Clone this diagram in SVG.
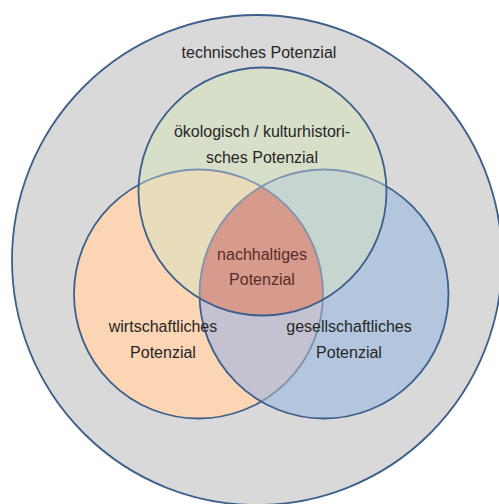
<svg xmlns="http://www.w3.org/2000/svg" width="499" height="504" viewBox="0 0 499 504">
<style>
.t{font-family:"Liberation Sans",Arial,sans-serif;font-size:16px;fill:#262626;text-anchor:middle}
.c{fill:#5a2b2b}
.dk{fill:none;stroke:#3d5f8c;stroke-width:1.8}
.lt{fill:none;stroke:#7d93b1;stroke-width:1.8}
</style>
<defs>
<clipPath id="cO"><circle cx="198.5" cy="294" r="124.5"/></clipPath>
<clipPath id="cG"><circle cx="262.5" cy="191.5" r="124"/></clipPath>
<clipPath id="cBG"><circle cx="324" cy="294" r="124.5"/><circle cx="262.5" cy="191.5" r="124"/></clipPath>
<mask id="mO"><rect width="499" height="504" fill="#fff"/><circle cx="324" cy="294" r="124.5" fill="#000"/><circle cx="262.5" cy="191.5" r="124" fill="#000"/></mask>
<mask id="mB"><rect width="499" height="504" fill="#fff"/><circle cx="262.5" cy="191.5" r="124" fill="#000"/></mask>
</defs>
<g id="technisch">
<circle cx="257" cy="260" r="245" fill="#d9d9d9" stroke="#3d5f8c" stroke-width="1.8"/>
<text class="t" x="259" y="58">technisches Potenzial</text>
</g>
<g id="fills">
<circle cx="198.5" cy="294" r="124.5" fill="#fbd5b4"/>
<circle cx="324" cy="294" r="124.5" fill="#b3c6de"/>
<circle cx="262.5" cy="191.5" r="124" fill="#d8dfc9"/>
<g clip-path="url(#cO)"><circle cx="324" cy="294" r="124.5" fill="#c4c2d0"/></g>
<g clip-path="url(#cG)"><circle cx="198.5" cy="294" r="124.5" fill="#e8dcba"/><circle cx="324" cy="294" r="124.5" fill="#c6d5d0"/></g>
<g clip-path="url(#cG)"><g clip-path="url(#cO)"><circle cx="324" cy="294" r="124.5" fill="#d69b8c"/></g></g>
</g>
<g id="strokes">
<circle cx="198.5" cy="294" r="124.5" class="lt" clip-path="url(#cBG)"/>
<circle cx="198.5" cy="294" r="124.5" class="dk" mask="url(#mO)"/>
<circle cx="324" cy="294" r="124.5" class="lt" clip-path="url(#cG)"/>
<circle cx="324" cy="294" r="124.5" class="dk" mask="url(#mB)"/>
<circle cx="262.5" cy="191.5" r="124" class="dk"/>
</g>
<g id="oekologisch">
<text class="t" x="262" y="137">ökologisch / kulturhistori-</text>
<text class="t" x="262" y="163">sches Potenzial</text>
</g>
<g id="wirtschaftlich">
<text class="t" x="163" y="332">wirtschaftliches</text>
<text class="t" x="163" y="358">Potenzial</text>
</g>
<g id="gesellschaftlich">
<text class="t" x="349" y="332">gesellschaftliches</text>
<text class="t" x="349" y="358">Potenzial</text>
</g>
<g id="nachhaltig">
<text class="t c" x="262" y="260">nachhaltiges</text>
<text class="t c" x="262" y="285">Potenzial</text>
</g>
</svg>
